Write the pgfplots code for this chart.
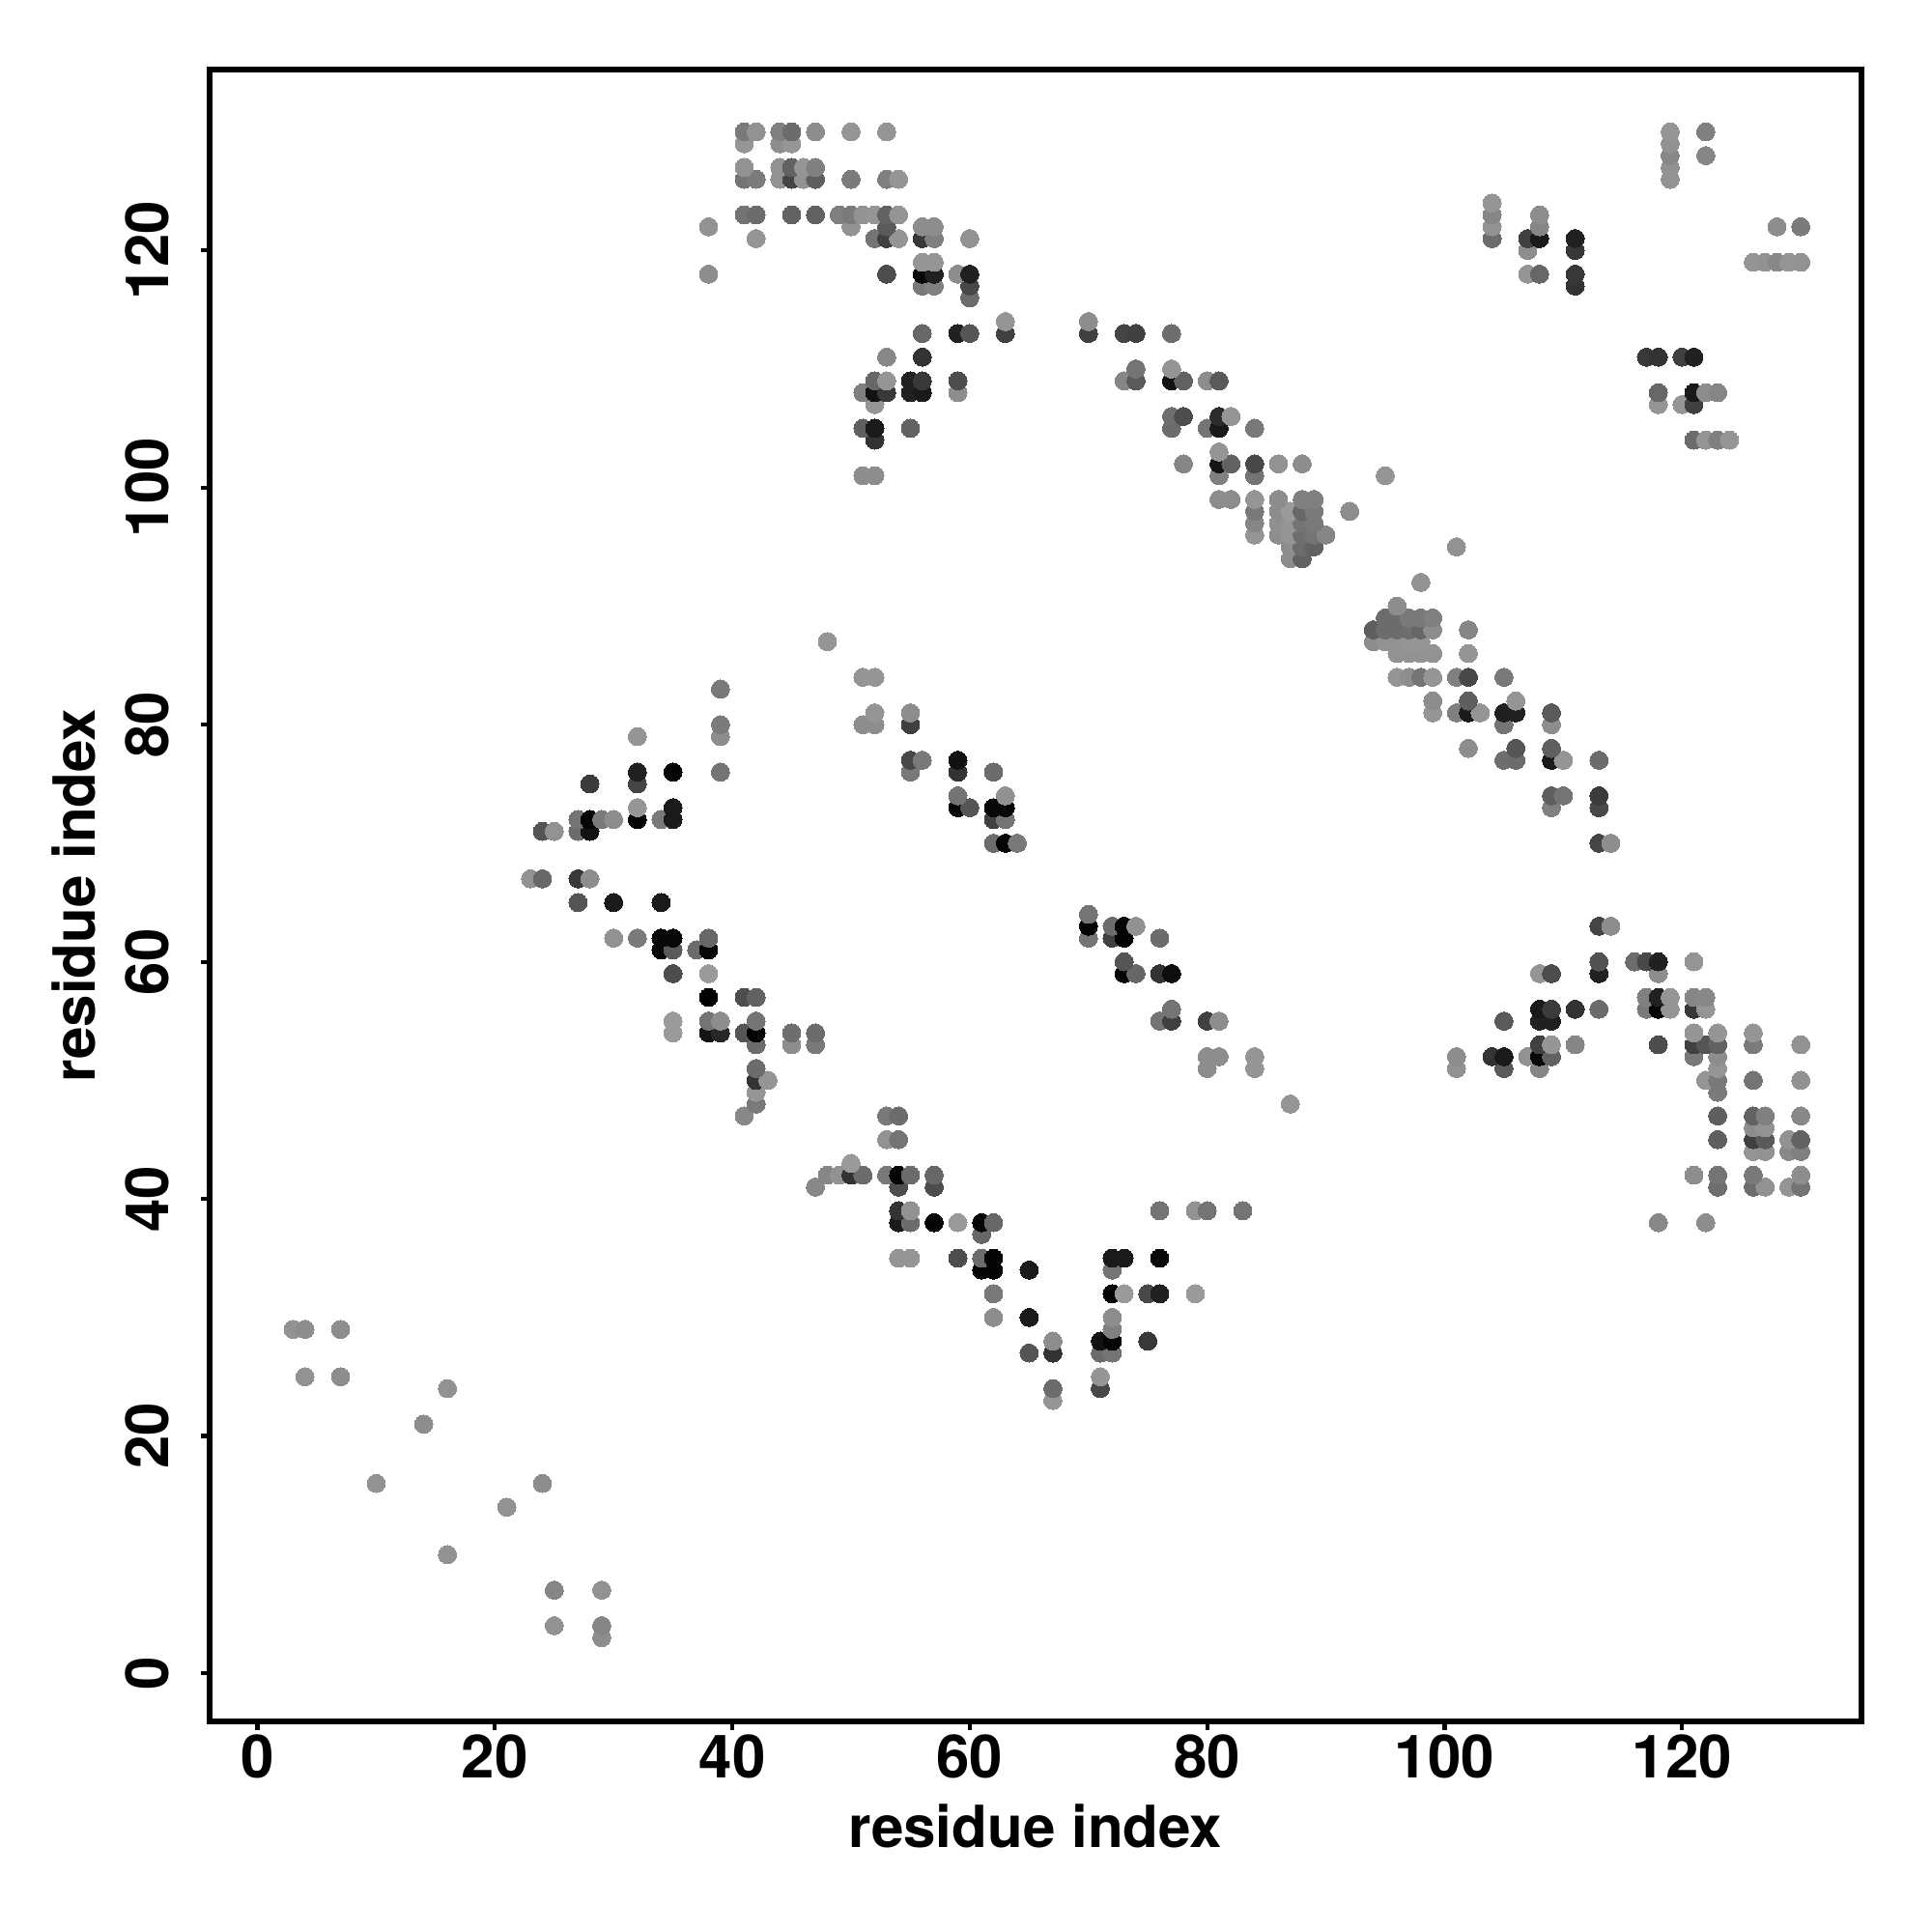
\documentclass[border=0pt]{standalone}
\usepackage{pgfplots}
\pgfplotsset{compat=1.18}
\usepackage{fontspec}
\setmainfont{TeX Gyre Heros}
\begin{document}
\begin{tikzpicture}[x=1mm,y=1mm,font=\bfseries]
\useasboundingbox (0,0) rectangle (200,200);
\begin{axis}[
  at={(21.68mm,21.8mm)}, anchor=south west,
  width=171.0mm, height=171.0mm, scale only axis,
  xmin=-4.05, xmax=135.1, ymin=-4.07, ymax=135.26,
  xtick={0,20,40,60,80,100,120}, ytick={0,20,40,60,80,100,120},
  tick pos=lower, tick align=outside, major tick length=0.9mm,
  every tick/.style={black,line width=0.42mm},
  axis line style={line width=0.55mm,black},
  /pgf/number format/assume math mode=true,
  tick label style={font=\fontsize{17.6}{20}\bfseries\selectfont},
  label style={font=\fontsize{17.1}{20}\bfseries\selectfont},
  x tick label style={yshift=0.8mm},
  y tick label style={rotate=90,anchor=south,yshift=2.0mm},
  xlabel={residue index}, ylabel={residue index},
  xlabel style={at={(axis description cs:0.5,-0.0633)},anchor=center},
  ylabel style={at={(axis description cs:-0.082,0.5)},anchor=center},
  colormap={g}{gray(0cm)=(0); gray(1cm)=(1)},
  point meta min=0, point meta max=1,
  clip=false,
]
\addplot[scatter, only marks, mark=*, mark size=0.94mm, line width=0pt,
  scatter src=explicit,
  scatter/use mapped color={draw=mapped color,fill=mapped color}]
 table[x=x,y=y,meta=g] {
x y g
29 3 .55
25 4 .57
29 4 .52
25 7 .52
29 7 .57
16 10 .57
21 14 .57
10 16 .57
24 16 .55
14 21 .55
67 23 .58
16 24 .57
67 24 .42
71 24 .28
4 25 .57
7 25 .55
71 25 .58
65 27 .33
67 27 .2
71 27 .42
72 27 .45
67 28 .55
71 28 .07
72 28 .02
75 28 .22
3 29 .57
4 29 .55
7 29 .55
72 29 .5
62 30 .55
65 30 .1
72 30 .55
62 32 .47
72 32 .02
73 32 .6
75 32 .28
76 32 .13
79 32 .6
61 34 .02
62 34 .02
65 34 .1
72 34 .45
54 35 .58
55 35 .58
59 35 .3
61 35 .42
62 35 .02
72 35 .1
73 35 .1
76 35 .03
61 37 .4
54 38 .1
55 38 .42
57 38 .02
59 38 .6
61 38 .02
62 38 .4
118 38 .53
122 38 .55
54 39 .2
55 39 .57
76 39 .45
79 39 .57
80 39 .45
83 39 .45
47 41 .53
54 41 .3
57 41 .3
123 41 .43
126 41 .42
127 41 .57
129 41 .58
130 41 .45
48 42 .52
49 42 .57
50 42 .2
51 42 .42
53 42 .47
54 42 .02
55 42 .42
57 42 .4
121 42 .55
123 42 .45
126 42 .47
130 42 .55
50 43 .6
126 44 .58
127 44 .57
129 44 .53
130 44 .5
53 45 .57
54 45 .45
123 45 .37
126 45 .25
127 45 .35
129 45 .57
130 45 .38
126 46 .55
127 46 .57
41 47 .53
53 47 .47
54 47 .42
123 47 .37
126 47 .38
127 47 .5
130 47 .53
42 48 .47
87 48 .58
42 49 .58
123 49 .48
42 50 .2
43 50 .58
122 50 .58
123 50 .47
126 50 .45
130 50 .57
42 51 .42
80 51 .55
84 51 .58
101 51 .57
105 51 .35
108 51 .52
123 51 .58
80 52 .55
81 52 .55
84 52 .58
101 52 .55
104 52 .2
105 52 .1
107 52 .57
108 52 .03
109 52 .38
121 52 .47
123 52 .55
42 53 .42
45 53 .55
47 53 .47
108 53 .25
109 53 .58
111 53 .52
118 53 .3
121 53 .25
122 53 .33
123 53 .38
126 53 .48
130 53 .57
35 54 .6
38 54 .08
39 54 .15
41 54 .33
42 54 .01
45 54 .43
47 54 .42
121 54 .58
123 54 .58
126 54 .58
35 55 .6
38 55 .45
39 55 .55
42 55 .45
76 55 .45
77 55 .25
80 55 .25
81 55 .55
105 55 .35
108 55 .13
109 55 .13
77 56 .45
108 56 .1
109 56 .23
111 56 .2
113 56 .42
117 56 .47
118 56 .02
119 56 .58
121 56 .22
122 56 .58
38 57 0
41 57 .3
42 57 .38
117 57 .5
118 57 .13
119 57 .58
121 57 .52
122 57 .53
35 59 .3
38 59 .6
73 59 .02
74 59 .4
76 59 .2
77 59 .05
108 59 .58
109 59 .3
113 59 .13
118 59 .55
73 60 .33
113 60 .32
116 60 .42
117 60 .28
118 60 .13
121 60 .58
34 61 .03
35 61 .35
37 61 .42
38 61 .03
30 62 .57
32 62 .48
34 62 .03
35 62 .03
38 62 .4
70 62 .45
72 62 .25
73 62 .02
76 62 .42
70 63 .01
72 63 .42
73 63 .02
74 63 .57
113 63 .27
114 63 .55
70 64 .45
27 65 .33
30 65 .1
34 65 .1
23 67 .57
24 67 .4
27 67 .22
28 67 .55
62 70 .42
63 70 .02
64 70 .47
113 70 .27
114 70 .55
24 71 .33
25 71 .57
27 71 .42
28 71 .07
27 72 .45
28 72 .02
29 72 .48
30 72 .55
32 72 .02
34 72 .47
35 72 .1
62 72 .25
63 72 .45
32 73 .58
35 73 .1
59 73 .03
60 73 .33
62 73 .03
63 73 .03
109 73 .5
113 73 .28
59 74 .45
63 74 .57
109 74 .37
110 74 .45
113 74 .23
28 75 .23
32 75 .27
32 76 .13
35 76 .02
39 76 .45
55 76 .47
59 76 .2
62 76 .42
55 77 .28
56 77 .47
59 77 .07
105 77 .43
106 77 .42
109 77 .1
110 77 .58
113 77 .42
102 78 .55
106 78 .33
109 78 .37
32 79 .58
39 79 .55
39 80 .48
51 80 .55
52 80 .55
55 80 .25
105 80 .45
109 80 .55
52 81 .58
55 81 .55
99 81 .58
101 81 .5
102 81 .1
103 81 .58
105 81 .12
106 81 .13
109 81 .35
99 82 .55
102 82 .37
106 82 .58
39 83 .47
51 84 .58
52 84 .58
96 84 .58
97 84 .55
98 84 .45
99 84 .58
101 84 .5
102 84 .28
105 84 .47
96 86 .57
97 86 .57
98 86 .57
99 86 .57
102 86 .58
48 87 .58
94 87 .55
95 87 .57
96 87 .57
97 87 .58
98 87 .58
94 88 .37
95 88 .42
96 88 .42
97 88 .43
98 88 .4
99 88 .55
102 88 .52
95 89 .42
96 89 .42
97 89 .47
98 89 .47
99 89 .5
96 90 .55
98 92 .57
87 94 .55
88 94 .38
87 95 .55
88 95 .42
89 95 .38
101 95 .57
84 96 .58
86 96 .55
87 96 .58
88 96 .43
89 96 .45
90 96 .52
84 97 .52
86 97 .56
87 97 .58
88 97 .45
89 97 .47
84 98 .47
86 98 .55
87 98 .6
88 98 .4
89 98 .48
92 98 .55
81 99 .55
82 99 .55
84 99 .58
86 99 .55
88 99 .5
89 99 .5
51 101 .55
52 101 .55
81 101 .5
84 101 .45
95 101 .58
78 102 .52
81 102 .08
82 102 .38
84 102 .28
86 102 .57
88 102 .55
81 103 .58
52 104 .2
121 104 .42
122 104 .58
123 104 .5
124 104 .58
51 105 .37
52 105 .1
55 105 .38
77 105 .42
80 105 .45
81 105 .1
84 105 .47
77 106 .43
78 106 .3
81 106 .17
82 106 .58
52 107 .58
118 107 .58
120 107 .58
121 107 .25
51 108 .5
52 108 .07
53 108 .22
55 108 .13
56 108 .1
59 108 .55
118 108 .4
121 108 .1
122 108 .55
123 108 .52
52 109 .4
53 109 .58
55 109 .13
56 109 .22
59 109 .3
73 109 .52
74 109 .35
77 109 .07
78 109 .38
80 109 .55
81 109 .35
74 110 .45
77 110 .58
53 111 .53
56 111 .2
117 111 .22
118 111 .2
120 111 .25
121 111 .13
56 113 .4
59 113 .13
60 113 .33
63 113 .25
70 113 .25
73 113 .27
74 113 .25
77 113 .43
63 114 .58
70 114 .55
60 116 .42
56 117 .47
57 117 .5
60 117 .28
111 117 .2
38 118 .55
53 118 .3
56 118 .03
57 118 .13
59 118 .55
60 118 .13
107 118 .58
108 118 .4
111 118 .22
56 119 .58
57 119 .58
126 119 .58
127 119 .57
128 119 .53
129 119 .58
130 119 .57
107 120 .55
111 120 .22
42 121 .58
52 121 .45
53 121 .25
54 121 .58
56 121 .22
57 121 .5
60 121 .57
104 121 .42
107 121 .25
108 121 .1
111 121 .13
38 122 .57
50 122 .57
53 122 .35
56 122 .55
57 122 .55
104 122 .57
108 122 .52
128 122 .55
130 122 .48
41 123 .45
42 123 .42
45 123 .38
47 123 .38
49 123 .5
50 123 .48
51 123 .57
52 123 .58
53 123 .38
54 123 .58
104 123 .52
108 123 .55
104 124 .58
41 126 .45
42 126 .48
44 126 .57
45 126 .27
46 126 .57
47 126 .37
50 126 .48
53 126 .5
54 126 .58
119 126 .57
41 127 .57
44 127 .57
45 127 .38
46 127 .58
47 127 .5
119 127 .57
119 128 .53
122 128 .52
41 129 .58
44 129 .55
45 129 .58
119 129 .57
41 130 .47
42 130 .57
44 130 .5
45 130 .42
47 130 .55
50 130 .58
53 130 .58
119 130 .58
122 130 .5
};
\end{axis}
\end{tikzpicture}
\end{document}
